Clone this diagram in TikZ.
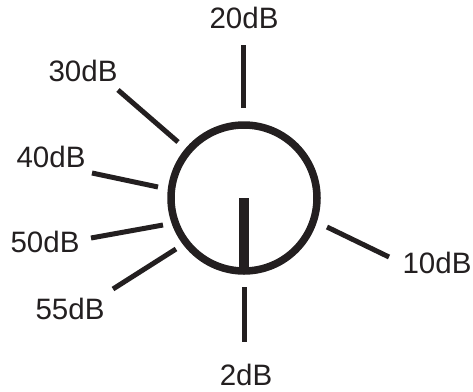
\documentclass[tikz,border=0pt]{standalone}
\usepackage{fontspec}
\setmainfont{Liberation Sans}
\definecolor{ink}{HTML}{231F20}
\begin{document}
\begin{tikzpicture}[x=1pt,y=-1pt,
  tick/.style={draw=ink,line width=5pt},
  lbl/.style={anchor=base,inner sep=0pt,text=ink,font=\fontsize{29.5}{29.5}\selectfont}]
\useasboundingbox (0,0) rectangle (473,391);
% dial
\coordinate (c) at (244,198);
\draw[ink,line width=7.5pt] (c) circle[radius=73];
\coordinate (p1) at (244,198);
\coordinate (p2) at (244,272);
\draw[ink,line width=10pt] (p1) -- (p2);
% ticks
\coordinate (t20a) at (243,45); \coordinate (t20b) at (243,108);
\coordinate (t30a) at (118,90); \coordinate (t30b) at (178,142);
\coordinate (t40a) at (92,173); \coordinate (t40b) at (158,187);
\coordinate (t50a) at (91,238); \coordinate (t50b) at (163,225);
\coordinate (t55a) at (113,289); \coordinate (t55b) at (176,249);
\coordinate (t10a) at (327,227); \coordinate (t10b) at (389,257);
\coordinate (t2a) at (244,287); \coordinate (t2b) at (244,342);
\draw[tick] (t20a) -- (t20b);
\draw[tick] (t30a) -- (t30b);
\draw[tick] (t40a) -- (t40b);
\draw[tick] (t50a) -- (t50b);
\draw[tick] (t55a) -- (t55b);
\draw[tick] (t10a) -- (t10b);
\draw[tick] (t2a) -- (t2b);
% labels
\node[lbl] (l20) at (244,28) {20dB};
\node[lbl] (l30) at (83,81) {30dB};
\node[lbl] (l40) at (51,167) {40dB};
\node[lbl] (l50) at (45,252) {50dB};
\node[lbl] (l55) at (70,319) {55dB};
\node[lbl] (l10) at (437,273) {10dB};
\node[lbl] (l2) at (246,385.5) {2dB};
\end{tikzpicture}
\end{document}
